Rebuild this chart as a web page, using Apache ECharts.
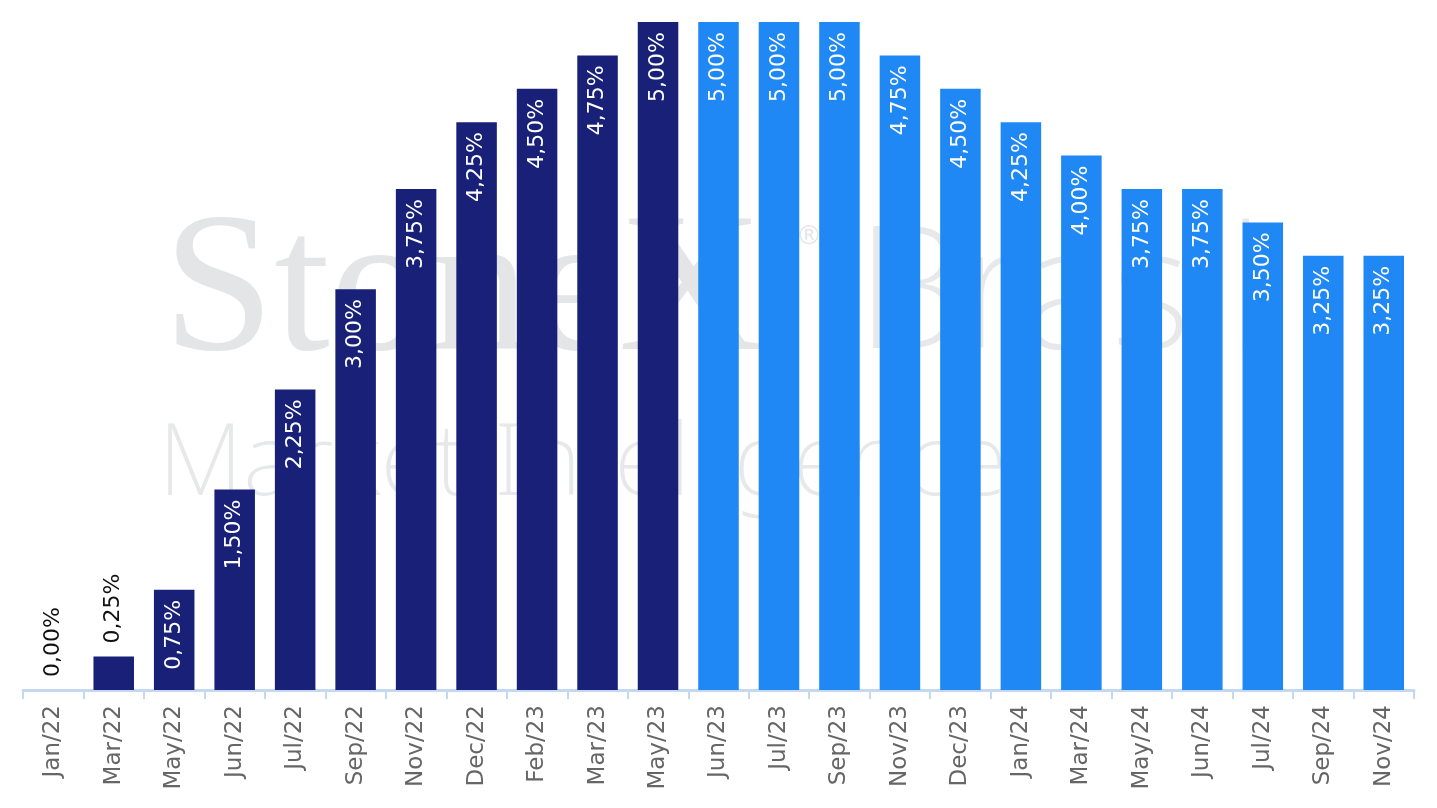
<!DOCTYPE html>
<html>
<head>
<meta charset="utf-8">
<script src="https://cdn.jsdelivr.net/npm/echarts@6/dist/echarts.min.js"></script>
<style>
  html, body { margin: 0; padding: 0; background: #fff; }
  #chart { width: 1437px; height: 808px; }
</style>
</head>
<body>
<div id="chart"></div>
<script>
// policy rate path, month labels as shown on the axis
var months = ['Jan/22', 'Mar/22', 'May/22', 'Jun/22', 'Jul/22', 'Sep/22', 'Nov/22', 'Dec/22',
  'Feb/23', 'Mar/23', 'May/23', 'Jun/23', 'Jul/23', 'Sep/23', 'Nov/23', 'Dec/23',
  'Jan/24', 'Mar/24', 'May/24', 'Jun/24', 'Jul/24', 'Sep/24', 'Nov/24']
var rates = [0, 0.25, 0.75, 1.5, 2.25, 3, 3.75, 4.25, 4.5, 4.75, 5, 5, 5, 5, 4.75, 4.5,
  4.25, 4, 3.75, 3.75, 3.5, 3.25, 3.25]
var hikingCount = 11  // first bars are dark (hiking), rest light

var navy = '#182078'
var blue = '#1f88f4'

function fmt(v) {
  return v.toFixed(2).replace('.', ',') + '%'
}

var data = rates.map(function (v, i) {
  var small = v < 0.5
  return {
    value: v,
    itemStyle: {color: i < hikingCount ? navy : blue},
    label: small ? {
      position: 'top',
      align: 'left',
      color: '#111',
      distance: 13
    } : {
      position: 'insideTop',
      align: 'right',
      color: '#fff',
      distance: 10
    }
  }
})

var chart = echarts.init(document.getElementById('chart'))
chart.setOption({
  animation: false,
  grid: {left: 23, right: 23, top: 22, bottom: 118},
  graphic: [
    {
      type: 'text', left: 163, top: 196, z: -10, silent: true,
      style: {text: 'StoneX', font: '200px "Liberation Serif"', fill: '#e4e5e6'}
    },
    {
      type: 'text', left: 796, top: 224, z: -10, silent: true,
      style: {text: '®', font: '26px "DejaVu Sans"', fill: '#e4e5e6'}
    },
    {
      type: 'text', left: 856, top: 215, z: -10, silent: true,
      style: {text: 'Brasil', font: '200 170px "Noto Sans"', fill: '#e7e8e9'}
    },
    {
      type: 'text', left: 158, top: 417, z: -10, silent: true,
      style: {text: 'Market Intelligence', font: '200 100px "Noto Sans"', fill: '#e7e8e9'}
    }
  ],
  xAxis: {
    type: 'category',
    data: months,
    axisLine: {lineStyle: {color: '#c5d8f1', width: 3}},
    axisTick: {show: true, length: 9, lineStyle: {color: '#c5d8f1', width: 2}},
    axisLabel: {
      rotate: 90,
      color: '#666',
      fontFamily: 'DejaVu Sans',
      fontSize: 23,
      margin: 15
    }
  },
  yAxis: {
    type: 'value',
    min: 0,
    max: 5,
    show: false,
    splitLine: {show: false}
  },
  series: [{
    type: 'bar',
    data: data,
    barCategoryGap: '33%',
    label: {
      show: true,
      rotate: 90,
      verticalAlign: 'middle',
      fontFamily: 'DejaVu Sans',
      fontSize: 22,
      formatter: function (p) { return fmt(p.value) }
    }
  }]
})
</script>
</body>
</html>
